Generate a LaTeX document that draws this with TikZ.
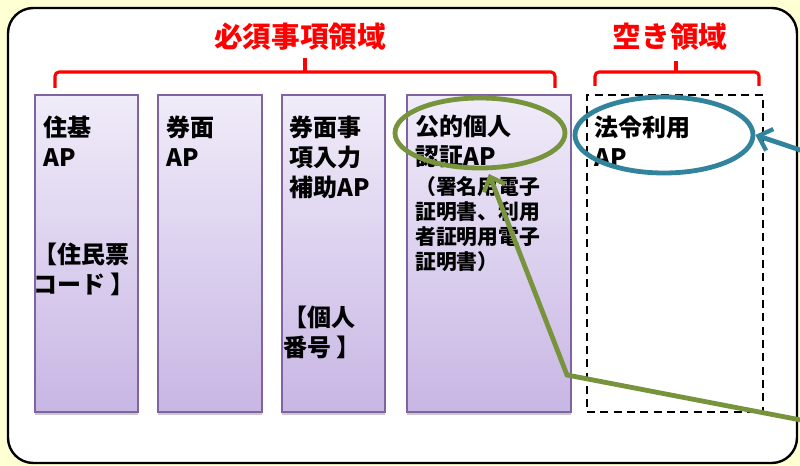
\documentclass[tikz,border=0pt]{standalone}
\usepackage{fontspec}
\setmainfont{Noto Sans CJK JP}
\usetikzlibrary{shapes.geometric,shadows,arrows.meta}
\definecolor{bgyellow}{RGB}{255,255,212}
\definecolor{lavtop}{RGB}{240,236,249}
\definecolor{lavbot}{RGB}{200,182,228}
\definecolor{lavborder}{RGB}{128,100,162}
\definecolor{olive}{RGB}{119,147,60}
\definecolor{tealb}{RGB}{49,132,155}
\tikzset{
  apbox/.style={draw=lavborder, line width=1.2pt, top color=lavtop, bottom color=lavbot,
    minimum height=237.75pt, inner sep=0pt,
    drop shadow={shadow xshift=0pt, shadow yshift=-2.5pt, opacity=0.35, fill=black!60}},
  emptybox/.style={draw=black, line width=1.6pt, dash pattern=on 6pt off 4pt,
    minimum width=132pt, minimum height=237.75pt, inner sep=0pt},
  maintxt/.style={anchor=north west, inner sep=0pt, align=left,
    font=\fontsize{18pt}{22.5pt}\selectfont\bfseries},
  subtxt/.style={anchor=north west, inner sep=0pt, align=left,
    font=\fontsize{15.6pt}{18.8pt}\selectfont\bfseries},
  titletxt/.style={text=red, inner sep=0pt, font=\fontsize{21.5pt}{24pt}\selectfont\bfseries},
  bracketline/.style={draw=red, line width=2.3pt, rounded corners=3pt},
  ring/.style={ellipse, draw, line width=3.6pt, fill=none, inner sep=0pt},
  conn/.style={line width=3.6pt, -{Straight Barb[length=9pt,width=17pt,line width=3.2pt]}},
}
\begin{document}
\begin{tikzpicture}[x=0.75pt,y=-0.75pt]
\useasboundingbox (0,0) rectangle (800,466);
\clip (0,0) rectangle (800,466);
\fill[bgyellow] (0,0) rectangle (800,466);
\node[draw=black, fill=white, line width=1.8pt, rounded corners=19pt,
  minimum width=591.75pt, minimum height=341.25pt, inner sep=0pt] (frame) at (402.5,235.5) {};

% titles and brackets
\node[titletxt] (t1) at (300,37) {必須事項領域};
\node[titletxt] (t2) at (670,37) {空き領域};
\draw[bracketline] (55,88) -- (55,72) -- (555,72) -- (555,88);
\draw[bracketline] (305,72) -- (305,58);
\draw[bracketline] (595,86) -- (595,72) -- (759,72) -- (759,86);
\draw[bracketline] (676,72) -- (676,61);

% boxes
\node[apbox, minimum width=77.25pt] (b1) at (86.5,253.5) {};
\node[apbox, minimum width=78pt] (b2) at (210,253.5) {};
\node[apbox, minimum width=77.25pt] (b3) at (333.5,253.5) {};
\node[apbox, minimum width=123pt] (b4) at (489,253.5) {};
\node[emptybox] (b5) at (675,253.5) {};

% texts
\node[maintxt] (b1t) at (43,116) {住基\\AP};
\node[maintxt] (b1c) at (33,243) {【住民票\\コード 】};
\node[maintxt] (b2t) at (166,116) {券面\\AP};
\node[maintxt] (b3t) at (289,116) {券面事\\項入力\\補助AP};
\node[maintxt] (b3c) at (283,306) {【個人\\番号 】};
\node[maintxt] (b4t) at (415,115) {公的個人\\認証AP};
\node[subtxt] (b4s) at (415,176) {（署名用電子\\証明書、利用\\者証明用電子\\証明書）};
\node[maintxt] (b5t) at (594,116) {法令利用\\AP};

% ellipses
\node[ring, draw=olive, minimum width=127.5pt, minimum height=52.5pt] (gell) at (480,133) {};
\node[ring, draw=tealb, minimum width=133.5pt, minimum height=57pt] (bell) at (664,135) {};

% arrows
\coordinate (g0) at (806,421);
\coordinate (gbend) at (567,375);
\coordinate (gtip) at (489,174);
\draw[conn, olive] (g0) -- (gbend) -- (gtip);
\coordinate (b0) at (806,152);
\draw[conn, tealb] (b0) -- (bell.east);
\end{tikzpicture}
\end{document}
